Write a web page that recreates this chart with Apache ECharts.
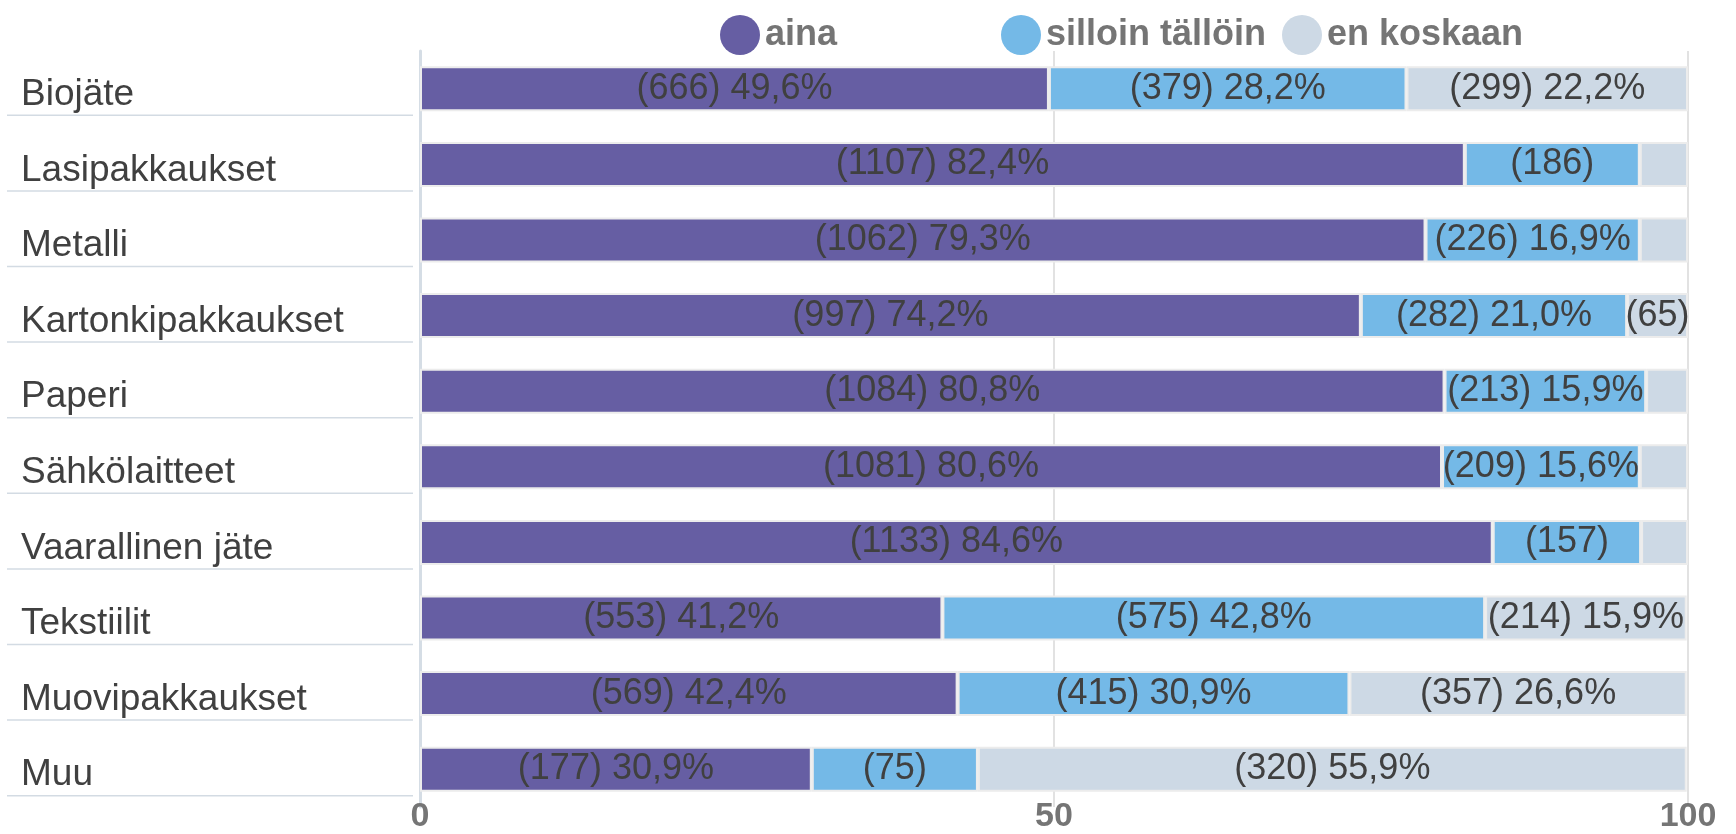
<!DOCTYPE html>
<html>
<head>
<meta charset="utf-8">
<script src="https://cdn.jsdelivr.net/npm/echarts@6/dist/echarts.min.js"></script>
<style>
  html, body { margin: 0; padding: 0; background: #fff; }
  #chart { width: 1736px; height: 834px; }
</style>
</head>
<body>
<div id="chart"></div>
<script>
// kategoriat ylhäältä alas
const categories = ['Biojäte', 'Lasipakkaukset', 'Metalli', 'Kartonkipakkaukset', 'Paperi',
  'Sähkölaitteet', 'Vaarallinen jäte', 'Tekstiilit', 'Muovipakkaukset', 'Muu']

// aina
const ainaPct = [49.6, 82.4, 79.3, 74.2, 80.8, 80.6, 84.6, 41.2, 42.4, 30.9]
const ainaCount = [666, 1107, 1062, 997, 1084, 1081, 1133, 553, 569, 177]
// silloin tällöin
const joskusPct = [28.2, 13.8, 16.9, 21.0, 15.9, 15.6, 11.7, 42.8, 30.9, 13.1]
const joskusCount = [379, 186, 226, 282, 213, 209, 157, 575, 415, 75]
// en koskaan
const eiPct = [22.2, 3.8, 3.8, 4.8, 3.3, 3.8, 3.7, 15.9, 26.6, 55.9]
const eiCount = [299, 50, 51, 65, 45, 51, 49, 214, 357, 320]

const seriesNames = ['aina', 'silloin tällöin', 'en koskaan']
const xTicks = [0, 50, 100]

const FONT = "'Liberation Sans', Arial, sans-serif"

//pienet palat: vain lukumäärä tai ei mitään
function labelText(count, pct) {
  if (pct >= 15) return '(' + count + ') ' + pct.toFixed(1).replace('.', ',') + '%'
  if (pct >= 4.5) return '(' + count + ')'
  return ''
}

function makeSeries(name, pct, count, color) {
  return {
    name: name,
    type: 'bar',
    stack: 'total',
    barWidth: 45,
    data: pct,
    itemStyle: {
      color: color,
      borderColor: '#ececec',
      borderWidth: 2
    },
    label: {
      show: true,
      position: 'inside',
      color: '#404040',
      fontFamily: FONT,
      fontSize: 36,
      textBorderWidth: 0,
      formatter: p => labelText(count[p.dataIndex], pct[p.dataIndex])
    },
    emphasis: { disabled: true }
  }
}

//selitteet tasavälein (Excel-tyyli)
function makeLegend(name, i) {
  return {
    left: 715 + i * 281,
    top: 10,
    itemWidth: 40,
    itemHeight: 42,
    icon: 'circle',
    itemStyle: { borderWidth: 0 },
    textStyle: {
      fontFamily: FONT,
      fontSize: 36,
      fontWeight: 'bold',
      color: '#757575'
    },
    data: [name]
  }
}

const myChart = echarts.init(document.getElementById('chart'))
const option = {
  animation: false,
  textStyle: { fontFamily: FONT },
  legend: seriesNames.map(makeLegend),
  grid: {
    left: 420,
    right: 48,
    top: 51,
    bottom: 23,
    containLabel: false
  },
  xAxis: {
    type: 'value',
    min: 0,
    max: 100,
    interval: 50,
    axisLine: { show: false },
    axisTick: { show: false },
    axisLabel: {
      margin: -7,
      fontFamily: FONT,
      fontSize: 34,
      fontWeight: 'bold',
      color: '#757575',
      formatter: v => xTicks.includes(v) ? String(v) : ''
    },
    splitLine: {
      show: true,
      lineStyle: { color: '#d9d9d9', width: 1.5 }
    }
  },
  yAxis: {
    type: 'category',
    inverse: true,
    data: categories,
    offset: 4,
    axisTick: { show: false },
    axisLine: {
      show: true,
      lineStyle: { color: '#d5dde5', width: 3 }
    },
    axisLabel: {
      align: 'left',
      margin: 409,
      formatter: v => '{sp|}\n{name|' + v + '}\n{hr|}',
      rich: {
        sp: {
          height: 12,
          lineHeight: 12
        },
        name: {
          fontFamily: FONT,
          fontSize: 37,
          color: '#404040',
          lineHeight: 41,
          padding: [0, 0, 0, 14]
        },
        hr: {
          width: 406,
          height: 0,
          borderColor: '#d3dbe3',
          borderWidth: 1.5
        }
      }
    }
  },
  series: [
    makeSeries(seriesNames[0], ainaPct, ainaCount, '#665ea3'),
    makeSeries(seriesNames[1], joskusPct, joskusCount, '#74b9e7'),
    makeSeries(seriesNames[2], eiPct, eiCount, '#cdd9e5')
  ]
}
myChart.setOption(option)
</script>
</body>
</html>
